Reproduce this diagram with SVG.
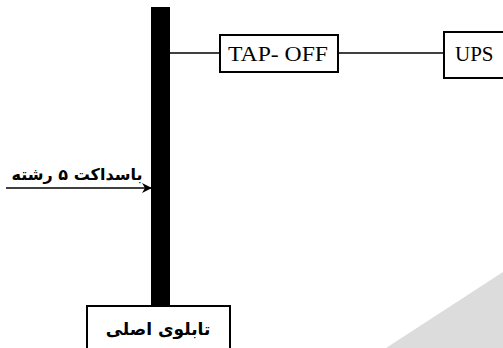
<svg xmlns="http://www.w3.org/2000/svg" width="503" height="348" viewBox="0 0 503 348">
<style>
.box{fill:#fff;stroke:#000;stroke-width:2}
.ln{stroke:#000;stroke-width:1.6;fill:none}
.lat{font-family:"Liberation Serif",serif;font-size:21px;fill:#000}
.fa{font-family:"DejaVu Sans","Noto Sans",sans-serif;font-size:16px;font-weight:bold;fill:#000}
</style>
<defs>
<marker id="ah" markerWidth="10" markerHeight="10" refX="9" refY="5" orient="auto" markerUnits="userSpaceOnUse">
<path d="M0,0 L10,5 L0,10 L3,5 Z" fill="#000"/>
</marker>
</defs>
<polygon points="386,348 503,272 503,348" fill="#dcdcdc"/>
<g id="connectors">
<line class="ln" x1="170" y1="53" x2="220" y2="53"/>
<line class="ln" x1="338" y1="53" x2="444" y2="53"/>
<line class="ln" x1="6" y1="188" x2="151" y2="188" marker-end="url(#ah)"/>
</g>
<g id="busbar">
<rect x="151" y="7" width="19" height="300" fill="#000"/>
</g>
<g id="tapoff">
<rect class="box" x="220" y="35" width="118" height="37"/>
<text class="lat" x="228" y="61" textLength="100" lengthAdjust="spacingAndGlyphs">TAP- OFF</text>
</g>
<g id="ups">
<rect class="box" x="444" y="32" width="60" height="46"/>
<text class="lat" x="455" y="61">UPS</text>
</g>
<g id="busduct-label">
<text class="fa" x="77" y="180" text-anchor="middle" direction="rtl">باسداکت ۵ رشته</text>
</g>
<g id="main-panel">
<rect class="box" x="87" y="306" width="143" height="50"/>
<text class="fa" x="158" y="335" text-anchor="middle" direction="rtl" style="font-size:17px">تابلوی اصلی</text>
</g>
</svg>
